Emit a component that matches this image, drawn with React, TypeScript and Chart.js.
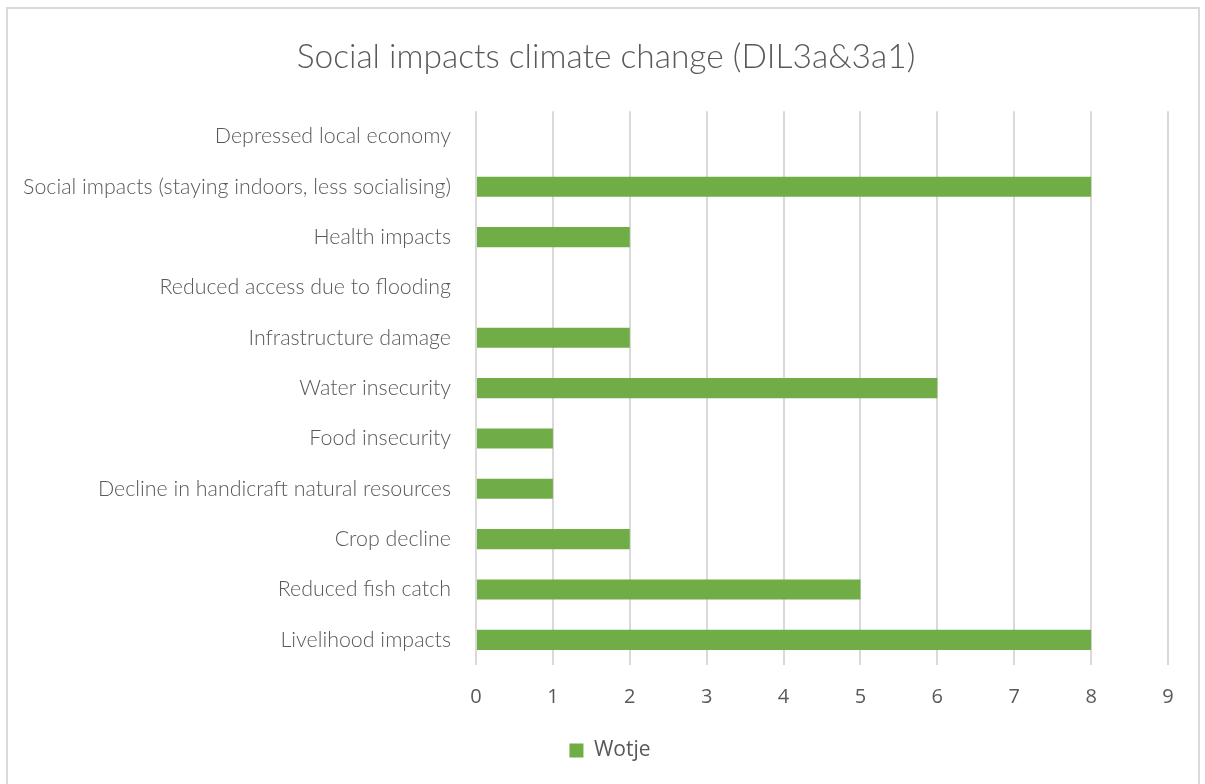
import React, { useEffect, useRef } from "react";
import { Chart, registerables } from "chart.js";

Chart.register(...registerables);

const chartTitle = "Social impacts climate change (DIL3a&3a1)";
const categories = [
  "Depressed local economy",
  "Social impacts (staying indoors, less socialising)",
  "Health impacts",
  "Reduced access due to flooding",
  "Infrastructure damage",
  "Water insecurity",
  "Food insecurity",
  "Decline in handicraft natural resources",
  "Crop decline",
  "Reduced fish catch",
  "Livelihood impacts",
];
const seriesName = "Wotje";
const wotjeValues = [0, 8, 2, 0, 2, 6, 1, 1, 2, 5, 8];
const xMin = 0;
const xMax = 9;

const centerShift = {
  id: "centerShift",
  afterLayout(chart: any) {
    const lg = chart.legend;
    if (lg) {
      lg.left += 26;
      lg.right += 26;
    }
    const tb = chart.titleBlock;
    if (tb) {
      tb.left += 22;
      tb.right += 22;
    }
  },
};

export default function App() {
  const ref = useRef<HTMLCanvasElement | null>(null);

  useEffect(() => {
    if (!ref.current) return;
    const chart = new Chart(ref.current, {
      type: "bar",
      data: {
        labels: categories,
        datasets: [
          {
            label: seriesName,
            data: wotjeValues,
            backgroundColor: "#70ad47",
            borderWidth: 0,
            barPercentage: 0.4,
            categoryPercentage: 1,
          },
        ],
      },
      plugins: [centerShift],
      options: {
        indexAxis: "y",
        responsive: false,
        animation: false,
        maintainAspectRatio: false,
        layout: { padding: { left: 0, right: 37, top: 0, bottom: 13 } },
        plugins: {
          title: {
            display: true,
            text: chartTitle,
            color: "#595959",
            font: { family: "Lato", size: 33.5, weight: 300 },
            padding: { top: 37, bottom: 34 },
          },
          legend: {
            display: true,
            position: "bottom",
            labels: {
              color: "#595959",
              font: { family: "Open Sans", size: 21 },
              boxWidth: 14,
              boxHeight: 14,
              padding: 10,
            },
          },
          tooltip: { enabled: false },
        },
        scales: {
          x: {
            min: xMin,
            max: xMax,
            ticks: {
              stepSize: 1,
              color: "#595959",
              font: { family: "Open Sans", size: 20 },
              padding: 20,
            },
            grid: { color: "#d9d9d9", lineWidth: 2, drawTicks: false },
            border: { display: false },
            afterFit: (scale: any) => {
              scale.height = 65;
            },
          },
          y: {
            ticks: {
              color: "#595959",
              font: { family: "Lato", size: 21.4, weight: 300 },
              padding: 25,
              autoSkip: false,
            },
            grid: { display: false, drawTicks: false },
            border: { display: false },
            afterFit: (scale: any) => {
              scale.width = 476;
            },
          },
        },
      },
    });
    return () => chart.destroy();
  }, []);

  return (
    <div style={{ position: "fixed", left: 0, top: 0, width: 1205, height: 784, background: "#fff", overflow: "hidden" }}>
      <div
        style={{
          position: "absolute",
          left: 6,
          top: 7,
          width: 1194,
          height: 800,
          border: "2px solid #d9d9d9",
          boxSizing: "border-box",
        }}
      />
      <canvas ref={ref} width={1205} height={784} style={{ position: "absolute", left: 0, top: 0 }} />
    </div>
  );
}
